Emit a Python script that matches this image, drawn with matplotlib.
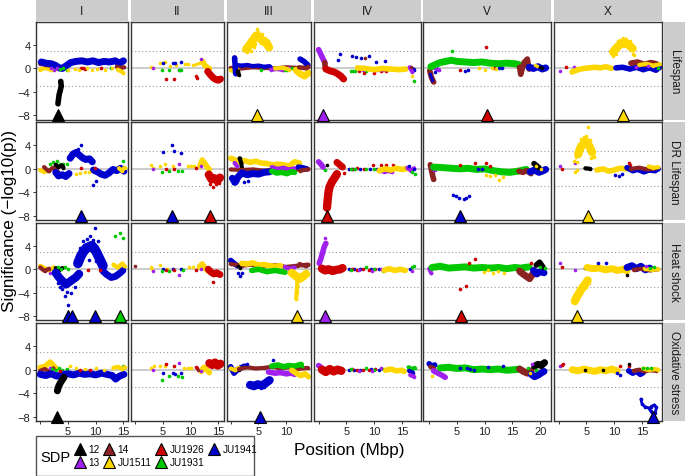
import matplotlib
matplotlib.use("Agg")
import matplotlib.pyplot as plt
from matplotlib.lines import Line2D
from matplotlib.patches import Rectangle

plt.rcParams["font.family"] = ["Liberation Sans", "DejaVu Sans"]

CHROMS = ["I", "II", "III", "IV", "V", "X"]
CHROM_MBP = [15.07, 15.28, 13.78, 17.49, 20.92, 17.72]
TRAITS = ["Lifespan", "DR Lifespan", "Heat shock", "Oxidative stress"]
SDP = ["12", "13", "14", "JU1511", "JU1926", "JU1931", "JU1941"]
SDP_COLORS = ["#000000", "#A020F0", "#8B2323", "#FFD700", "#CD0000", "#00C800", "#0000CD"]

# each entry: (SDP, band width in pt (0 = single dots), positions Mbp, -log10(p) signed)
LIFESPAN_I = [
    ("JU1511", 3, [0.0, 1.0, 2.0, 2.5, 3.0], [-0.2, 0.1, -0.3, 0.9, -0.1]),
    ("14", 3, [0.0, 1.0, 2.2], [0.8, 0.6, 0.4]),
    ("JU1941", 5, [0.2, 1.0, 2.0, 2.8, 3.4, 4.0, 4.6, 5.5, 6.5, 7.5, 8.5, 9.5, 10.5, 11.5, 12.5, 13.5, 14.3, 15.0],
     [1.1, 0.9, 0.8, 0.5, 0.1, 0.0, 0.4, 1.0, 1.2, 1.3, 1.1, 1.3, 1.0, 1.2, 1.1, 1.3, 0.9, 1.3]),
    ("13", 0, [2.0, 2.5, 3.0], [0.0, -0.2, 0.1]),
    ("JU1931", 0, [3.6, 4.2, 4.8, 12.8], [-0.1, 0.0, -0.2, 0.1]),
    ("JU1926", 0, [7.3, 7.7, 8.1, 11.0], [0.0, 0.1, -0.1, 0.0]),
    ("JU1511", 0, [5.0, 6.2, 7.0, 8.5, 9.4, 10.2, 11.7, 13.0], [-0.3, -0.1, -0.2, 0.0, -0.3, -0.1, -0.2, 0.0]),
    ("14", 3, [13.8, 14.5, 15.1], [0.3, 0.1, 0.2]),
    ("JU1511", 3, [14.0, 14.6, 15.0], [-0.2, -0.5, -0.8]),
    ("12", 4, [3.7, 3.8, 3.6, 3.4, 3.3, 3.2], [-2.2, -3.0, -3.8, -4.5, -5.3, -6.0]),
]
LIFESPAN_II = [
    ("JU1511", 0, [2.8, 3.3, 4.5, 5.4, 6.3, 7.4, 9.0, 9.6, 10.4, 11.0, 11.6], [0.2, 0.0, 1.0, 1.1, 0.5, 0.6, 0.7, 0.7, 0.6, 0.7, 1.0]),
    ("JU1511", 4, [12.2, 12.6, 13.0, 13.4], [1.2, 0.5, 0.2, 0.0]),
    ("13", 0, [3.3, 8.0, 11.8], [0.0, -0.2, 1.6]),
    ("JU1941", 0, [5.0, 6.9, 7.2, 8.3], [1.0, 1.0, 1.0, 1.1]),
    ("JU1931", 0, [4.8, 6.1, 7.9, 8.3], [-0.3, -0.3, -0.3, -0.3]),
    ("JU1926", 0, [5.5, 7.0, 11.0, 11.1], [-1.8, -1.8, -1.2, -1.6]),
    ("14", 0, [12.7], [-0.6]),
    ("JU1926", 5, [13.1, 13.6, 14.1, 14.6, 15.0, 15.4], [-0.5, -1.1, -1.6, -1.9, -2.0, -1.8]),
]
LIFESPAN_III = [
    ("14", 3, [0.0, 2, 4, 6, 8, 10, 12, 14], [0.1, 0.0, 0.2, 0.1, 0.0, 0.2, 0.1, 0.2]),
    ("JU1511", 3, [0.0, 0.6, 1.2], [-0.3, -0.5, -0.2]),
    ("JU1941", 4, [0.7, 0.8, 0.9], [1.8, 0.5, -0.9]),
    ("JU1941", 3, [0.9, 2, 3, 4, 5, 6, 7], [0.6, 0.5, 0.6, 0.4, 0.5, 0.3, 0.4]),
    ("12", 3, [1.3, 1.5], [-0.5, -1.1]),
    ("13", 3, [7.3, 8.5, 9.5, 10.5], [-0.2, -0.1, -0.3, 0.0]),
    ("JU1931", 0, [5.5, 8, 9.8, 10.2, 11], [-0.2, 0, -0.3, -0.2, 0.0]),
    ("JU1511", 3, [8, 9.5, 10.5], [0, 0.1, -0.2]),
    ("JU1511", 5, [11.8, 12.5, 13.3, 14.0], [-0.3, -0.9, -1.3, -0.8]),
    ("JU1941", 4, [12.5, 13.2, 13.9], [1.6, 1.2, 0.6]),
    ("14", 3, [12.3, 13.5, 14.0], [0.2, 0.0, 0.3]),
    ("JU1511", 6, [2.8, 3.4, 4.0, 4.6, 5.2, 5.8, 6.4, 6.9], [3.3, 4.0, 4.8, 5.6, 5.3, 4.6, 4.4, 3.6]),
    ("JU1511", 0, [3.0, 3.6, 4.2, 4.8, 5.0, 5.6, 6.2, 6.8, 4.4, 3.2], [2.8, 3.0, 3.6, 6.7, 6.2, 5.8, 5.2, 4.6, 4.2, 4.4]),
]
LIFESPAN_IV = [
    ("13", 4, [0.0, 0.3, 0.6, 0.9, 1.1], [3.2, 2.6, 2.0, 1.4, 1.0]),
    ("14", 4, [1.1, 1.2], [1.0, 0.0]),
    ("JU1926", 5, [1.3, 2.0, 2.8, 3.4, 4.0, 4.5], [-0.1, -0.4, -0.6, -0.9, -1.3, -1.8]),
    ("JU1941", 0, [3.5, 3.9, 6.0, 6.8, 7.6, 9.1, 10.3, 11.9, 12.4], [1.5, 2.5, 2.2, 1.9, 1.7, 2.1, 1.1, 1.3, -0.1]),
    ("14", 0, [8.4], [1.7]),
    ("JU1931", 0, [5.8, 6.2, 6.5, 8.6], [-0.4, -0.4, -0.4, -0.4]),
    ("JU1926", 0, [7.2, 8.2, 9.9, 11.2, 12.2], [-0.4, -0.8, -0.8, -0.4, -0.4]),
    ("13", 0, [8.0, 10.6, 11.6], [-0.2, -0.2, -0.3]),
    ("JU1511", 4, [7.0, 8.5, 10, 11.5, 13, 14.5, 15.7], [0.1, 0.0, -0.2, 0.0, -0.1, -0.2, -0.1]),
    ("JU1941", 3, [16.6, 17.2], [0.0, -0.2]),
    ("13", 3, [16.4, 16.9], [0.2, -0.6]),
    ("JU1511", 0, [16.8], [-1.3]),
    ("14", 0, [16.7], [0.2]),
    ("JU1931", 0, [17.1], [-2.1]),
]
LIFESPAN_V = [
    ("13", 3, [0.5, 1.2, 1.8], [0.3, 0.0, -0.3]),
    ("14", 4, [0.1, 0.4, 0.8], [-0.4, -1.5, -2.3]),
    ("JU1941", 0, [0.2, 0.4, 0.6, 1.0], [-0.9, -1.5, -1.9, -0.6]),
    ("JU1931", 5, [0.3, 1.0, 2.0, 3.0, 4.0, 5.0, 6.5, 8.0, 9.5, 11, 12.5, 14, 15.5, 16.3],
     [0.3, 0.6, 1.0, 1.2, 1.4, 1.2, 1.1, 1.0, 1.1, 0.9, 0.8, 0.9, 0.8, 0.6]),
    ("JU1931", 0, [4.2], [2.9]),
    ("JU1926", 0, [5.5, 10.3, 11.7], [-0.2, 3.7, 0.1]),
    ("JU1941", 0, [6.4, 7.0, 12.5, 13.2], [-0.4, -0.3, 0.1, 0.0]),
    ("JU1511", 0, [9.0, 10.0, 11.3, 12.1], [0.0, -0.2, 0.0, -0.1]),
    ("14", 4, [16.3, 16.5, 17.1, 17.7, 18.0], [0.2, -1.0, 1.0, 1.6, -0.1]),
    ("JU1941", 5, [18.0, 18.8, 19.6, 20.4, 21.0], [0.2, 0.0, 0.3, -0.1, 0.1]),
    ("JU1511", 0, [19.0, 19.5], [0.6, 0.5]),
    ("12", 0, [20.0, 20.3], [0.2, 0.0]),
]
LIFESPAN_X = [
    ("13", 0, [0.2, 2.7], [-0.4, 0.2]),
    ("JU1926", 0, [1.3, 12.6, 12.9], [0.2, -0.1, 0.1]),
    ("JU1511", 4, [2.4, 3.5, 4.5, 5.5, 6.5, 7.5, 8.5, 9.5], [-0.6, -0.2, 0.0, 0.1, 0.2, 0.1, 0.3, 0.0]),
    ("JU1511", 6, [9.8, 10.5, 11.2, 11.9, 12.6, 13.3], [2.8, 3.6, 4.2, 4.3, 4.0, 3.4]),
    ("JU1511", 0, [9.8, 10.3, 11.0, 11.6, 12.2, 12.8, 13.4, 10.0, 10.7, 13.6], [2.1, 2.4, 4.9, 5.1, 5.0, 4.7, 2.5, 3.5, 4.6, 2.3]),
    ("JU1941", 4, [10.3, 11.5, 12.8, 14, 15.2, 16.4, 17.5, 18.2], [0.1, 0.2, -0.1, 0.2, -0.2, 0.1, -0.3, 0.2]),
    ("14", 4, [13.0, 14.2, 15.4, 16.6, 17.6], [0.9, 1.1, 0.7, 1.0, 0.8]),
    ("JU1511", 3, [14.5, 15.8, 17, 18.2], [0.6, 0.8, 0.5, 0.7]),
    ("13", 0, [14.0, 16.0], [0.3, 0.4]),
    ("JU1931", 0, [17.8], [0.1]),
]

DR_I = [
    ("JU1511", 3, [0.0, 0.6, 1.2], [-0.2, -0.5, -0.3]),
    ("14", 3, [0.7, 1.5, 2.3, 3.2], [0.3, -0.4, 0.2, -0.5]),
    ("JU1931", 0, [1.8, 2.4, 3.0, 3.6, 4.2, 4.8, 14.9], [0.8, 1.1, 1.3, 0.9, 0.8, 0.9, 1.4]),
    ("12", 3, [2.8, 3.3, 3.9, 4.2], [0.7, 0.3, 0.6, 0.2]),
    ("JU1941", 5, [2.8, 3.3, 4.0, 4.6, 5.2], [-0.6, -1.2, -1.0, -1.3, -0.8]),
    ("JU1941", 5, [5.4, 5.9, 6.5, 7.1, 7.6, 8.2, 8.9, 9.4], [1.8, 2.5, 2.8, 2.3, 1.9, 1.6, 1.7, 1.2]),
    ("JU1941", 0, [7.3, 6.8], [4.1, 3.4]),
    ("JU1941", 5, [9.6, 10.3, 11.0, 11.7, 12.4, 13.1, 13.8, 14.5, 15.1], [-0.2, -0.5, -0.9, -1.1, -0.7, -0.1, -0.3, 0.1, -0.4]),
    ("JU1941", 0, [9.6, 10.1], [-2.7, -2.0]),
    ("JU1511", 0, [6.5, 7.2, 8.0, 8.8], [-0.8, -0.7, -0.6, -0.5]),
    ("JU1926", 0, [7.4, 9.9], [0.2, 0.1]),
    ("JU1511", 3, [14.2, 14.7, 15.2], [0.1, -0.3, 0.2]),
]
DR_II = [
    ("JU1941", 0, [5.1, 6.7, 7.0, 8.2], [2.8, 4.1, 3.1, 2.7]),
    ("JU1511", 0, [2.8, 3.2, 4.5, 5.4, 6.8, 9.5, 10.1, 10.7], [0.7, 0.1, 0.4, 0.8, 0.4, 0.5, 0.5, 0.5]),
    ("JU1511", 4, [11.7, 12.1, 12.6, 13.0, 13.4], [0.5, 1.5, 0.9, 0.3, -0.1]),
    ("13", 0, [3.3, 8.0, 11.9], [0.0, 0.8, 0.4]),
    ("JU1931", 0, [4.8, 6.1, 7.7, 8.5], [-0.6, -0.3, -0.3, -0.3]),
    ("JU1926", 0, [5.5, 7.0, 11.0], [0.0, 0.0, 0.1]),
    ("JU1926", 6, [13.3, 13.8, 14.3, 14.8, 15.3], [-1.0, -1.8, -1.6, -2.0, -1.5]),
    ("JU1926", 0, [13.5, 14.0, 14.6, 15.2, 13.4], [-2.6, -3.1, -2.5, -2.4, -0.5]),
]
DR_III = [
    ("JU1511", 4, [0.0, 0.8, 1.5, 2.5, 3.5, 4.5, 5.5, 6.5, 7.5, 8.5, 9.5, 10.5, 11.5, 12.4],
     [1.8, 1.5, 1.2, 1.4, 1.1, 1.3, 1.0, 0.9, 0.7, 0.8, 0.7, 0.5, 1.2, 1.0]),
    ("12", 3, [1.6, 1.9, 2.0], [1.8, 1.0, 0.2]),
    ("14", 3, [0.0, 2, 4, 6, 8, 10, 12, 14], [-0.1, -0.2, -0.1, -0.3, -0.2, -0.4, -0.1, 0.0]),
    ("13", 3, [0.7, 1.1], [1.0, 0.5]),
    ("13", 3, [7.4, 8.5, 9.5, 10.5, 11.5], [0.3, 0.0, 0.2, -0.1, 0.1]),
    ("JU1941", 5, [0.3, 0.8, 1.3, 2.0, 3.0, 4.0, 5.0, 6.0, 7.0], [-1.6, -2.3, -1.4, -0.7, -1.0, -0.8, -0.9, -0.6, -0.5]),
    ("JU1941", 0, [0.5, 1.2, 2.4, 3.2], [-2.4, -2.1, -2.2, -2.1]),
    ("JU1931", 4, [7.4, 8.3, 9.2, 10.1, 11.0, 11.5], [-0.4, -0.7, -0.6, -0.8, -0.5, -0.6]),
    ("JU1941", 4, [12.2, 12.9, 13.7], [0.3, 0.2, 0.0]),
    ("14", 3, [12.5, 13.9], [-0.3, -0.1]),
]
DR_IV = [
    ("13", 4, [0.0, 0.4, 0.8], [1.2, 0.8, 0.3]),
    ("12", 0, [1.5], [0.7]),
    ("JU1931", 0, [1.1], [-0.2]),
    ("JU1926", 5, [3.3, 3.8, 4.3], [1.1, 0.7, 0.3]),
    ("JU1926", 0, [4.6], [-0.7]),
    ("JU1926", 6, [3.3, 2.9, 2.4, 2.0, 1.8, 1.7, 1.6, 1.5], [-0.9, -1.5, -2.2, -3.0, -3.8, -4.6, -5.6, -6.6]),
    ("JU1941", 0, [5.5, 6.2, 7.5, 9.2, 10.5, 12.0], [0.0, -0.1, 0.0, 0.0, -0.1, 0.1]),
    ("JU1926", 0, [6.0, 7.0, 8.2, 9.8, 11.2, 12.2, 13.4], [0.0, 0.1, 0.0, 0.6, 0.7, 0.6, 0.6]),
    ("JU1931", 0, [5.8, 6.6, 8.6, 10.0], [0.0, -0.1, 0.0, -0.1]),
    ("13", 3, [11.0, 11.8, 12.6, 13.2], [-0.3, -0.5, -0.4, -0.5]),
    ("JU1511", 4, [10.9, 12.0, 13.0, 14.0, 15.0, 15.7], [-0.3, 0.0, -0.2, 0.1, -0.1, 0.0]),
    ("13", 3, [16.0, 16.6, 17.2], [0.2, -0.3, 0.1]),
    ("JU1931", 0, [16.8, 17.3], [-0.6, -0.8]),
    ("JU1941", 0, [16.3, 17.1], [0.5, 0.0]),
]
DR_V = [
    ("14", 4, [0.2, 0.5, 0.8], [0.7, -0.6, -1.8]),
    ("13", 3, [0.5, 1.0], [0.3, -0.2]),
    ("JU1931", 5, [0.8, 2.5, 4.0, 5.5, 7.0, 8.5, 10.0, 11.5, 13.0, 14.5, 16.0, 17.5],
     [0.3, 0.2, 0.1, 0.0, 0.1, -0.1, 0.0, -0.3, -0.5, -0.6, -0.4, -0.1]),
    ("JU1941", 0, [4.3, 4.8, 5.3, 6.2, 6.7, 7.2], [-4.4, -4.7, -5.0, -5.2, -4.9, -4.6]),
    ("JU1926", 0, [5.5, 8.2, 10.3, 10.9], [0.7, 1.0, 1.0, 0.4]),
    ("JU1511", 0, [10.3, 11.0, 11.8, 12.5, 13.3], [-1.0, -1.3, -1.0, -1.9, -1.4]),
    ("JU1941", 0, [8.8, 9.5], [-0.1, 0.0]),
    ("14", 4, [16.2, 16.9, 17.6, 18.3], [-0.4, -0.6, -0.3, -0.8]),
    ("JU1941", 5, [18.2, 19.0, 19.8, 20.6, 21.0], [-0.5, -0.2, -0.6, -0.3, -0.1]),
    ("12", 4, [18.9, 19.4, 19.8], [0.9, 0.5, 0.2]),
    ("JU1511", 0, [19.2, 20.2], [0.4, -0.1]),
]
DR_X = [
    ("13", 0, [0.2, 3.0], [0.4, 1.0]),
    ("JU1926", 0, [0.5, 12.6, 12.9], [0.0, 1.0, 0.6]),
    ("JU1511", 0, [3.0, 3.2], [-0.5, -0.2]),
    ("JU1511", 6, [3.5, 4.0, 4.5, 5.0, 5.5, 6.0], [2.5, 3.8, 4.3, 4.6, 3.9, 2.8]),
    ("JU1511", 0, [2.8, 3.1, 3.6, 4.0, 4.6, 5.0, 5.3, 5.7, 6.2, 6.3, 5.8, 3.3],
     [1.4, 2.0, 3.0, 5.0, 5.4, 5.6, 7.1, 4.9, 2.4, 2.0, 1.8, 1.2]),
    ("12", 3, [4.8, 5.7], [0.1, 0.0]),
    ("JU1511", 4, [6.9, 8.0, 9.0, 10.0, 11.0, 12.3], [-0.2, 0.0, -0.4, -0.2, 0.1, 0.0]),
    ("JU1941", 0, [10.2, 10.8, 11.4], [-1.1, -1.3, -0.9]),
    ("JU1941", 4, [12.3, 13.3, 14.3, 15.3, 16.3, 17.3, 17.9], [0.2, -0.3, -0.1, -0.5, -0.2, -0.3, 0.0]),
    ("14", 3, [13.0, 14.5, 16.0, 17.5], [0.0, 0.2, -0.1, 0.1]),
    ("JU1511", 3, [16.2, 17.0, 17.9], [0.4, 0.2, 0.3]),
]

HEAT_I = [
    ("JU1511", 3, [0.0, 0.8, 1.6, 2.4], [0.6, 0.2, -0.2, 0.3]),
    ("14", 3, [0.0, 0.8, 1.6], [0.3, -0.3, 0.1]),
    ("13", 0, [1.8], [-0.7]),
    ("12", 3, [2.8, 3.4, 4.0], [0.2, -0.1, 0.2]),
    ("JU1931", 0, [3.2, 3.8, 4.4, 5.0], [0.3, 0.1, 0.4, 0.0]),
    ("JU1941", 6, [2.8, 3.4, 4.0, 4.6, 5.2, 5.8, 6.4, 7.0], [-0.6, -1.4, -2.0, -2.6, -2.2, -1.8, -1.4, -0.8]),
    ("JU1941", 0, [4.0, 4.5, 4.8, 5.1, 5.6, 3.6, 3.2, 6.2], [-3.4, -4.6, -3.9, -6.0, -4.1, -3.0, -2.4, -3.0]),
    ("JU1941", 7, [6.8, 7.3, 7.8, 8.3, 8.8, 9.3, 9.8, 10.3, 10.8, 11.3], [1.0, 2.2, 3.0, 3.6, 3.8, 4.0, 3.5, 2.6, 1.6, 0.6]),
    ("JU1941", 0, [7.8, 8.4, 9.0, 9.8, 10.4, 8.8, 7.2, 9.5, 10.0], [4.8, 5.2, 5.6, 7.0, 4.8, 1.5, 3.6, 5.0, 1.4]),
    ("JU1941", 5, [11.3, 12.0, 12.8, 13.6, 14.3, 14.9], [-0.3, -0.9, -1.4, -1.2, -0.7, -0.2]),
    ("JU1926", 0, [8.6, 10.7], [-0.1, -0.1]),
    ("JU1931", 0, [13.4, 14.3, 15.0], [5.6, 6.1, 5.3]),
    ("JU1511", 3, [13.2, 14.0, 14.8, 15.2], [0.8, 0.3, 1.0, 0.5]),
]
HEAT_II = [
    ("14", 0, [0.0], [0.5]),
    ("JU1511", 0, [2.8, 3.0, 4.5, 5.7, 6.9, 9.8, 10.4], [0.4, 0.0, 0.7, 0.0, 0.1, 0.3, 0.3]),
    ("JU1511", 4, [11.6, 12.1, 12.6, 13.1], [0.4, 0.9, 0.2, -0.3]),
    ("13", 0, [3.3, 8.0, 11.9], [-0.3, -0.9, 0.0]),
    ("JU1941", 0, [5.1, 6.8, 8.3], [0.1, 0.1, 0.1]),
    ("JU1931", 0, [4.8, 6.2, 8.7], [-0.3, -0.3, -0.1]),
    ("JU1926", 0, [5.5, 7.0, 11.0, 14.0], [-0.1, -0.1, -0.1, -2.2]),
    ("JU1926", 5, [13.2, 13.7, 14.2, 14.7, 15.3], [0.0, -0.5, -0.8, -0.6, -0.9]),
]
HEAT_III = [
    ("JU1941", 4, [0.0, 0.6, 1.2], [1.5, 1.0, 0.6]),
    ("14", 3, [0.0, 2, 4, 6, 8, 10, 12, 14], [0.9, 0.6, 0.8, 0.5, 0.7, 0.4, 0.6, 0.8]),
    ("JU1511", 4, [2.0, 3.0, 4.0, 5.0, 6.0, 7.0, 8.0, 9.0], [1.0, 0.9, 1.1, 0.7, 0.8, 0.6, 0.5, 0.6]),
    ("12", 0, [1.4, 1.6], [0.6, 0.2]),
    ("JU1941", 0, [1.4, 1.7, 2.0], [-0.7, -1.1, -0.6]),
    ("JU1931", 4, [3.8, 5.0, 6.5, 8.0, 9.8], [-0.2, 0.0, -0.4, -0.2, -0.5]),
    ("13", 3, [9.8, 10.5, 11.5], [0.4, 0.1, 0.3]),
    ("JU1511", 6, [11.0, 11.8, 12.5, 13.2, 13.6], [-0.6, -1.2, -1.6, -1.1, -0.8]),
    ("JU1511", 3, [12.0, 12.0, 11.9, 11.8], [-1.8, -2.8, -3.8, -5.0]),
    ("14", 3, [12.4, 13.6], [0.9, 0.5]),
]
HEAT_IV = [
    ("13", 4, [0.1, 0.4, 0.7, 1.0, 1.3], [1.0, 1.8, 2.8, 3.8, 4.4]),
    ("13", 0, [1.1], [5.3]),
    ("14", 0, [1.3, 1.6], [0.3, 0.1]),
    ("JU1926", 6, [0.6, 1.2, 1.8, 2.5, 3.2, 3.9, 4.3], [0.1, -0.2, 0.0, -0.3, -0.1, 0.0, 0.2]),
    ("JU1941", 0, [5.5, 6.4, 7.5, 9.5, 10.8], [0.1, 0.0, 0.1, 0.0, 0.1]),
    ("JU1926", 0, [6.0, 7.0, 8.0, 9.0, 10.2], [0.0, -0.1, 0.1, -0.2, 0.0]),
    ("JU1931", 0, [5.8, 8.5, 10.0, 11.6], [-0.2, 0.3, 0.0, -0.3]),
    ("13", 0, [7.2, 9.6, 11.2], [-0.2, -0.3, 0.0]),
    ("JU1511", 4, [11.8, 12.7, 13.7, 14.7, 15.6], [-0.2, 0.1, -0.2, 0.0, -0.2]),
    ("JU1941", 0, [16.5], [0.1]),
    ("13", 0, [16.9], [-0.3]),
    ("JU1931", 0, [16.8, 17.2], [0.4, 0.5]),
]
HEAT_V = [
    ("13", 3, [0.0, 0.4], [0.1, -0.7]),
    ("JU1931", 5, [0.5, 2.0, 3.5, 5.0, 6.5, 8.0, 9.5, 11.0, 12.5, 14.0, 15.5, 16.5, 18.0],
     [0.3, 0.5, 0.2, 0.3, 0.4, 0.2, 0.3, 0.2, 0.3, 0.1, 0.3, 0.2, 0.4]),
    ("JU1926", 0, [5.5, 6.7, 8.2, 7.1, 18.3], [-3.3, -2.9, 1.7, 1.1, 1.0]),
    ("JU1511", 0, [9.8, 10.6, 11.5, 12.4, 13.4], [-0.5, -0.2, -0.7, -0.3, -0.6]),
    ("13", 0, [16.2], [-0.6]),
    ("14", 5, [16.3, 16.9, 17.5, 18.1, 18.6], [-0.3, -0.8, -1.2, -1.6, -0.9]),
    ("JU1941", 5, [18.8, 19.4, 20.0, 20.7], [-0.2, -0.8, -0.4, -0.6]),
    ("12", 4, [19.3, 19.9, 20.5], [0.7, 1.2, 0.4]),
    ("JU1931", 0, [20.0, 20.8], [0.3, 0.2]),
]
HEAT_X = [
    ("13", 0, [0.2, 3.0], [1.0, -0.1]),
    ("JU1926", 0, [0.5], [0.3]),
    ("12", 0, [4.8], [0.2]),
    ("JU1511", 5, [5.1, 6.2, 7.3, 8.4, 9.5, 10.6, 11.6, 12.3], [0.3, 0.1, 0.2, -0.1, 0.1, -0.2, 0.0, -0.3]),
    ("JU1941", 0, [7.0, 8.5], [1.0, 1.1]),
    ("JU1511", 6, [5.2, 4.8, 4.4, 4.0, 3.6, 3.2, 2.9], [-1.9, -2.5, -3.0, -3.5, -4.2, -4.8, -5.4]),
    ("JU1511", 0, [2.6, 3.0, 3.4, 5.0, 5.5], [-5.6, -5.8, -4.6, -3.1, -2.3]),
    ("JU1941", 5, [12.3, 13.2, 14.0, 14.8, 15.6, 16.4], [0.3, 0.6, 0.1, 0.5, -0.1, 0.2]),
    ("12", 0, [12.3], [-0.9]),
    ("14", 3, [13.5, 15, 16.5, 17.8], [-0.1, 0.1, -0.2, 0.0]),
    ("JU1511", 3, [15.5, 16.8, 17.9], [0.1, -0.1, 0.0]),
    ("JU1931", 0, [16.5, 17.2], [0.2, 0.3]),
    ("13", 0, [15.8], [0.6]),
]

OXID_I = [
    ("JU1511", 4, [0.0, 0.7, 1.3, 1.8, 2.3, 2.8], [0.4, 0.5, 0.9, 1.3, 0.8, 0.3]),
    ("14", 3, [0.0, 0.8, 1.6, 2.4], [-0.2, 0.1, -0.3, 0.2]),
    ("13", 0, [1.8], [0.3]),
    ("JU1931", 0, [2.2, 2.8, 3.4, 4.0, 4.8, 14.9], [0.1, -0.1, 0.2, 0.0, 0.1, 0.6]),
    ("JU1941", 5, [0.0, 1.0, 2.0, 3.0, 4.0, 5.0, 6.0, 7.0, 8.0, 9.0, 10.0, 11.0, 12.0, 13.0, 13.6, 14.3, 15.1],
     [-0.8, -1.0, -0.7, -1.1, -0.8, -0.7, -0.9, -0.6, -0.8, -0.7, -0.9, -0.6, -0.8, -1.0, -1.6, -1.1, -0.8]),
    ("12", 5, [4.3, 4.0, 3.6, 3.3, 3.1], [-1.3, -1.7, -2.3, -2.9, -3.6]),
    ("JU1926", 0, [3.6, 7.1, 8.9], [-0.3, 0.0, 0.0]),
    ("JU1511", 0, [5.4, 6.5, 8.0, 10.0, 11.5], [0.6, 0.2, 0.1, 0.2, 0.0]),
    ("JU1511", 3, [13.2, 14.0, 14.8, 15.2], [0.3, 0.5, 0.1, 0.4]),
]
OXID_II = [
    ("JU1511", 0, [2.8, 3.5, 4.5, 5.4, 8.9, 9.5, 10.1], [0.2, 0.6, 0.6, 0.6, 0.3, 0.3, 0.3]),
    ("JU1511", 4, [11.9, 12.4, 12.9, 13.4], [-0.3, 0.4, 0.0, -0.5]),
    ("13", 0, [3.3, 8.0, 11.9], [-0.1, 1.1, -0.2]),
    ("JU1941", 0, [5.1, 6.8, 7.2, 8.3], [-0.6, -0.5, -0.7, -0.5]),
    ("JU1931", 0, [4.8, 6.1, 7.7, 8.5], [-1.7, -1.1, -1.1, -1.3]),
    ("JU1926", 0, [5.5, 7.0, 11.0, 11.1], [0.9, 0.7, 0.5, 0.2]),
    ("14", 0, [11.4], [-0.1]),
    ("JU1926", 6, [13.4, 13.9, 14.4, 14.9, 15.4], [1.1, 0.8, 1.2, 0.7, 1.0]),
]
OXID_III = [
    ("JU1941", 4, [0.0, 0.6, 1.2, 1.8, 2.5], [0.5, -0.6, 0.0, 0.3, 0.6]),
    ("JU1511", 3, [0.0, 0.8, 1.5], [0.2, -0.1, 0.3]),
    ("12", 0, [1.5], [0.0]),
    ("14", 3, [1.5, 3, 4.5, 6, 7.5, 9, 10.5, 12, 13.9], [0.1, 0.4, 0.2, 0.3, 0.5, 0.2, 0.4, 0.1, 0.3]),
    ("JU1931", 4, [7.4, 8.5, 9.5, 10.5, 11.5, 12.7], [0.6, 0.8, 0.5, 0.7, 0.6, 0.9]),
    ("13", 4, [6.8, 8, 9, 10, 11, 11.5], [-0.4, -0.6, -0.5, -0.7, -0.6, -0.8]),
    ("JU1511", 4, [11.0, 11.8, 12.6, 13.4, 14.0], [-0.1, -0.6, -1.0, -0.7, -1.2]),
    ("JU1941", 0, [2.9, 7.7], [0.9, 1.7]),
    ("JU1941", 6, [3.5, 4.2, 4.9, 5.6, 6.3, 7.0], [-2.6, -2.8, -2.5, -2.7, -2.3, -1.8]),
    ("JU1941", 0, [3.3, 4.0, 5.5, 6.0, 7.3], [-2.2, -3.0, -3.1, -2.9, -1.6]),
    ("JU1931", 0, [12.4, 12.9], [0.9, 0.7]),
]
OXID_IV = [
    ("13", 4, [0.0, 0.5, 1.0], [0.7, 0.3, -0.2]),
    ("JU1926", 6, [0.6, 1.3, 2.0, 2.7, 3.4, 4.1], [0.0, -0.4, 0.1, -0.3, 0.0, -0.2]),
    ("JU1941", 0, [5.5, 6.4, 7.5, 9.5, 10.8], [0.0, -0.1, 0.0, 0.1, 0.0]),
    ("JU1926", 0, [6.0, 7.0, 8.0, 9.0, 10.2], [0.1, 0.0, -0.1, 0.0, 0.1]),
    ("JU1931", 0, [5.8, 8.5, 10.0, 11.6], [0.1, 0.2, 0.0, 0.1]),
    ("13", 0, [7.2, 9.6, 11.2], [-0.2, -0.3, 0.2]),
    ("JU1511", 4, [12.1, 13.0, 14.0, 15.0, 15.4], [-0.1, 0.1, -0.2, -0.1, -0.3]),
    ("JU1931", 3, [16.2, 16.8, 17.3], [0.4, 0.1, 0.3]),
    ("JU1941", 3, [16.3, 17.0], [-0.2, -0.5]),
    ("13", 3, [16.5, 17.2], [-0.9, -1.2]),
]
OXID_V = [
    ("JU1941", 4, [0.0, 0.5, 1.0], [1.0, 0.6, 0.8]),
    ("14", 3, [0.2, 0.8], [0.5, 0.3]),
    ("JU1511", 0, [0.5, 1.1], [-1.1, -0.2]),
    ("13", 4, [0.8, 1.6, 2.4, 2.9], [-0.2, -0.6, -1.0, -1.3]),
    ("JU1931", 5, [2.0, 3.5, 5.0, 6.5, 8.0, 9.5, 11.0, 12.5, 14.0, 15.5, 16.3],
     [0.3, 0.4, 0.2, 0.3, 0.0, 0.1, 0.0, 0.1, -0.1, 0.0, 0.1]),
    ("JU1941", 0, [5.5, 6.8, 7.3, 8.1, 10.6, 13.3], [0.3, 0.2, 0.1, 0.0, 0.5, 0.6]),
    ("14", 5, [16.3, 17.0, 17.7, 18.4], [0.1, -0.3, -0.6, -0.2]),
    ("JU1941", 5, [18.4, 19.0, 19.7, 20.3, 20.7], [-0.8, -1.2, -0.9, -0.5, -0.3]),
    ("12", 5, [19.0, 19.6, 20.2, 20.8], [0.6, 0.9, 0.7, 1.2]),
    ("13", 0, [18.6], [1.0]),
    ("JU1931", 0, [17.8, 19.3], [0.3, 0.0]),
    ("JU1511", 0, [18.1], [-0.5]),
]
OXID_X = [
    ("13", 0, [0.2], [0.6]),
    ("JU1926", 0, [0.5, 0.8, 11.1, 12.6], [0.8, 1.0, 0.6, 0.6]),
    ("JU1511", 5, [2.4, 3.5, 4.5, 5.5, 6.5, 7.5, 8.5, 9.5, 10.5], [0.0, -0.2, 0.1, -0.1, -0.3, 0.0, -0.2, 0.1, -0.2]),
    ("12", 0, [4.8, 8.0, 12.6], [-0.1, 0.0, 0.9]),
    ("JU1941", 0, [10.5, 11.0], [-0.5, -0.9]),
    ("JU1941", 4, [12.6, 13.3, 14.0, 14.7, 15.2], [-0.2, -0.6, -0.3, -0.8, -0.5]),
    ("14", 3, [13.5, 14.5, 15.5, 16.5, 17.6], [-0.2, 0.0, -0.3, -0.1, -0.2]),
    ("JU1511", 3, [15.2, 16.2, 17.2, 17.9], [0.2, -0.1, 0.1, 0.0]),
    ("JU1931", 0, [15.2, 15.9, 16.6], [0.3, 0.2, 0.3]),
    ("JU1941", 2, [14.8, 15.0, 15.5, 16.2, 16.6, 17.0, 17.4, 17.6, 17.2, 16.6],
     [-5.0, -5.8, -6.3, -6.5, -7.1, -7.6, -7.3, -6.4, -6.0, -6.3]),
]

# QTL peak markers drawn at the panel floor
QTL_TRAIT = ["Lifespan", "Lifespan", "Lifespan", "Lifespan", "Lifespan",
             "DR Lifespan", "DR Lifespan", "DR Lifespan", "DR Lifespan", "DR Lifespan", "DR Lifespan",
             "Heat shock", "Heat shock", "Heat shock", "Heat shock", "Heat shock", "Heat shock", "Heat shock", "Heat shock",
             "Oxidative stress", "Oxidative stress", "Oxidative stress"]
QTL_CHROM = ["I", "III", "IV", "V", "X",
             "I", "II", "II", "IV", "V", "X",
             "I", "I", "I", "I", "III", "IV", "V", "X",
             "I", "III", "X"]
QTL_POS = [3.3, 4.8, 0.8, 10.4, 11.5,
           7.4, 6.7, 13.6, 1.5, 5.5, 5.3,
           5.1, 5.8, 9.8, 14.4, 12.0, 1.1, 5.7, 3.2,
           3.1, 5.3, 16.9]
QTL_SDP = ["12", "JU1511", "13", "JU1926", "JU1511",
           "JU1941", "JU1941", "JU1926", "JU1926", "JU1941", "JU1511",
           "JU1941", "JU1941", "JU1941", "JU1931", "JU1511", "13", "JU1926", "JU1511",
           "12", "JU1941", "JU1941"]

PANELS = {
    "Lifespan": [LIFESPAN_I, LIFESPAN_II, LIFESPAN_III, LIFESPAN_IV, LIFESPAN_V, LIFESPAN_X],
    "DR Lifespan": [DR_I, DR_II, DR_III, DR_IV, DR_V, DR_X],
    "Heat shock": [HEAT_I, HEAT_II, HEAT_III, HEAT_IV, HEAT_V, HEAT_X],
    "Oxidative stress": [OXID_I, OXID_II, OXID_III, OXID_IV, OXID_V, OXID_X],
}
color_of = dict(zip(SDP, SDP_COLORS))

W, H = 685, 477
fig = plt.figure(figsize=(W / 100, H / 100), dpi=100)


def px_axes(x, y, w, h):
    return fig.add_axes([x / W, 1 - (y + h) / H, w / W, h / H])


# panel geometry in pixels
left, right = 36.0, 662.0
gap = 2.8
spans = [1.1 * L for L in CHROM_MBP]
scale = (right - left - gap * (len(CHROMS) - 1)) / sum(spans)
col_x = []
xx = left
for s in spans:
    col_x.append((xx, s * scale))
    xx += s * scale + gap
row_top, row_h, row_gap = 23.0, 97.6, 2.8
YLIM = (-8.7, 7.9)

for r, trait in enumerate(TRAITS):
    y0 = row_top + r * (row_h + row_gap)
    for c, chrom in enumerate(CHROMS):
        x0, w = col_x[c]
        L = CHROM_MBP[c]
        ax = px_axes(x0, y0, w, row_h)
        ax.set_xlim(-0.05 * L, 1.05 * L)
        ax.set_ylim(*YLIM)
        ax.axhline(0, color="#C8C8C8", lw=1.3, zorder=0)
        for yy in (3, -3):
            ax.axhline(yy, color="#9A9A9A", lw=0.8, ls=(0, (1, 2.2)), zorder=0)
        for sdp, lw, xs, ys in PANELS[trait][c]:
            col = color_of[sdp]
            if lw > 0:
                ax.plot(xs, ys, color=col, lw=lw, solid_capstyle="round",
                        solid_joinstyle="round", zorder=2)
            ax.plot(xs, ys, "o", color=col, ms=2.6, mec="none", zorder=2)
        for t, ch, pos, sdp in zip(QTL_TRAIT, QTL_CHROM, QTL_POS, QTL_SDP):
            if t == trait and ch == chrom:
                ax.plot(pos, -8, "^", ms=8, color=color_of[sdp], mec="black",
                        mew=0.8, zorder=5, clip_on=False)
        for sp in ax.spines.values():
            sp.set_color("#333333")
            sp.set_linewidth(1.0)
        ticks = [t for t in (0, 5, 10, 15, 20) if t <= L]
        ax.set_xticks(ticks)
        ax.set_xticklabels(["" if t == 0 else str(t) for t in ticks])
        ax.set_yticks([-8, -4, 0, 4])
        ax.tick_params(length=2.5, width=0.7, color="#333333", labelsize=8,
                       labelcolor="#222222", pad=1.5)
        if c != 0:
            ax.tick_params(axis="y", left=False, labelleft=False)
        if r != len(TRAITS) - 1:
            ax.tick_params(axis="x", bottom=False, labelbottom=False)
        if r == 0:
            sx = px_axes(x0, 0, w, 21.5)
            sx.set_facecolor("#CCCCCC")
            sx.set_xticks([])
            sx.set_yticks([])
            for sp in sx.spines.values():
                sp.set_visible(False)
            sx.text(0.5, 0.45, chrom, ha="center", va="center", fontsize=8.5,
                    color="#1A1A1A", transform=sx.transAxes)
    st = px_axes(663.5, y0, W - 663.5, row_h)
    st.set_facecolor("#CCCCCC")
    st.set_xticks([])
    st.set_yticks([])
    for sp in st.spines.values():
        sp.set_visible(False)
    st.text(0.5, 0.5, trait, ha="center", va="center", rotation=-90,
            fontsize=8.5, color="#1A1A1A", transform=st.transAxes)

fig.text(10 / W, 1 - 221 / H, "Significance (\u2212log10(p))", rotation=90,
         ha="center", va="center", fontsize=12.3)
fig.text(349 / W, 1 - 451 / H, "Position (Mbp)", ha="center", va="center",
         fontsize=12.3)

# legend box
fig.patches.append(Rectangle((36 / W, 0), (254 - 36) / W, (477 - 437) / H,
                             transform=fig.transFigure, facecolor="white",
                             edgecolor="#555555", lw=1.0))
fig.text(55 / W, 1 - 458 / H, "SDP", ha="center", va="center", fontsize=10.5)
handles = [Line2D([], [], ls="none", marker="^", ms=8, color=col, mec="black", mew=0.8)
           for col in SDP_COLORS]
fig.legend(handles, SDP, loc="upper left", bbox_to_anchor=(75 / W, 1 - 445 / H),
           ncol=4, frameon=False, fontsize=7.2, handlelength=1.0, handletextpad=0.35,
           columnspacing=0.45, labelspacing=0.35, borderpad=0, borderaxespad=0)

fig.savefig("out.png", dpi=100)
